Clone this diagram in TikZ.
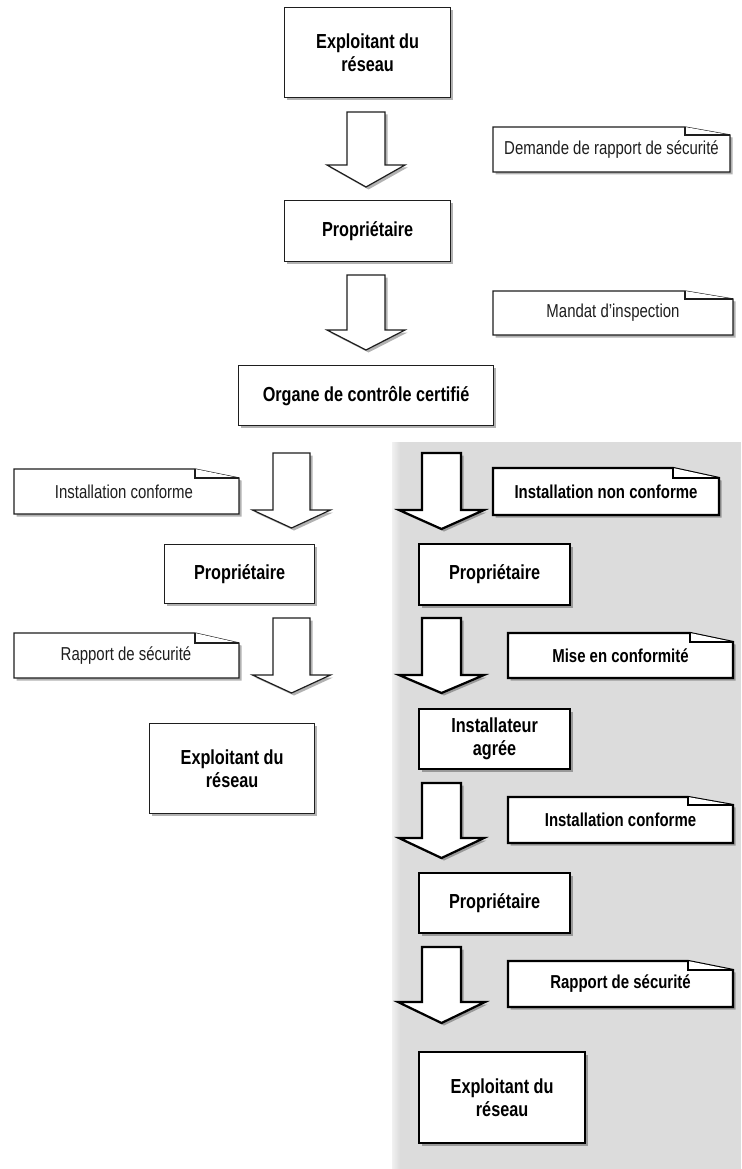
\documentclass[tikz,border=0pt]{standalone}
\usepackage{fontspec}
\setmainfont{Liberation Sans}[FakeStretch=0.8]
\usetikzlibrary{shadows}
\definecolor{panelgray}{RGB}{220,220,220}
\definecolor{inkgray}{RGB}{30,30,30}
\tikzset{
  shd/.style={drop shadow={shadow xshift=2.5pt,shadow yshift=-2.5pt,opacity=0.3,fill=black}},
  thinln/.style={line width=1.2pt,draw=inkgray,fill=white,line join=miter},
  thickln/.style={line width=2.2pt,draw=black,fill=white,line join=miter},
  boxtxt/.style={inner sep=0pt,align=center,font=\fontsize{20.3}{23}\selectfont\bfseries,text=black},
  thinbox/.style={thinln,shd,boxtxt},
  thickbox/.style={thickln,shd,boxtxt},
  doctxtthin/.style={inner sep=0pt,font=\fontsize{18.7}{21}\selectfont,text=inkgray},
  doctxtthick/.style={inner sep=0pt,font=\fontsize{18.7}{21}\selectfont\bfseries,text=black},
}
% \docshape{name}{x1}{y1}{x2}{y2}{foldw}{foldh}{linestyle}{unused}
\newcommand\docshape[9]{%
  \filldraw[#8,shd] (#2,#3) -- ({#4-#6},#3) -- (#4,{#3+#7}) -- (#4,#5) -- (#2,#5) -- cycle;
  \draw[#8] ({#4-#6},#3) -- ({#4-#6},{#3+#7}) -- (#4,{#3+#7});
}
\newcommand\blkarrow[7]{%
  \filldraw[#1,shd] ({#2-#6},#3) -- ({#2+#6},#3) -- ({#2+#6},#4) -- ({#2+#7},#4) -- (#2,#5) -- ({#2-#7},#4) -- ({#2-#6},#4) -- cycle;
}
\begin{document}
\begin{tikzpicture}[x=1pt,y=-1pt]
\useasboundingbox (0,0) rectangle (741,1169);
\fill[white] (0,0) rectangle (741,1169);
% gray panel
\fill[panelgray] (392,442) rectangle (741,1169);
\shade[left color=white!60!panelgray,right color=panelgray] (392,442) rectangle (400,1169);

% top column
\node[thinbox,minimum width=166pt,minimum height=90pt,anchor=north west] (e1) at (284,7) {Exploitant du\\réseau};
\blkarrow{thinln}{366}{112}{165}{187}{19}{39}
\docshape{d1}{493}{127}{730}{172}{45}{8}{thinln}{}
\node[doctxtthin] (t1) at (611.5,150) {Demande de rapport de sécurité};

\node[thinbox,minimum width=166pt,minimum height=61pt,anchor=north west] (p1) at (284,200) {Propriétaire};
\blkarrow{thinln}{366}{275}{330}{350}{19}{39}
\docshape{d2}{493}{291}{733}{335}{48}{8}{thinln}{}
\node[doctxtthin] (t2) at (613,313) {Mandat d'inspection};

\node[thinbox,minimum width=255pt,minimum height=60pt,anchor=north west] (o1) at (238,365) {Organe de contrôle certifié};

% left branch
\blkarrow{thinln}{291.5}{453}{510}{528}{18.5}{39}
\docshape{ld1}{14}{469}{239}{514}{44}{9}{thinln}{}
\node[doctxtthin] (lt1) at (124,492) {Installation conforme};
\node[thinbox,minimum width=150pt,minimum height=59pt,anchor=north west] (lp) at (164,544) {Propriétaire};
\blkarrow{thinln}{291.5}{618}{675}{693}{18.5}{39}
\docshape{ld2}{14}{633}{239}{678}{44}{10}{thinln}{}
\node[doctxtthin] (lt2) at (126,656) {Rapport de sécurité};
\node[thinbox,minimum width=165pt,minimum height=90pt,anchor=north west] (le) at (149,723) {Exploitant du\\réseau};

% right branch (panel)
\blkarrow{thickln}{441.5}{453}{510}{529}{19.5}{42.5}
\docshape{rd1}{493}{468}{719}{515}{46}{10}{thickln}{}
\node[doctxtthick] (rt1) at (606,491.5) {Installation non conforme};
\node[thickbox,minimum width=151pt,minimum height=61pt,anchor=north west] (rp1) at (418,543) {Propriétaire};

\blkarrow{thickln}{441.5}{618}{675}{693}{19.5}{42.5}
\docshape{rd2}{508}{633}{733}{678}{43}{9}{thickln}{}
\node[doctxtthick] (rt2) at (620.5,656) {Mise en conformité};
\node[thickbox,minimum width=151pt,minimum height=60pt,anchor=north west] (ri) at (418,708) {Installateur\\agrée};

\blkarrow{thickln}{441.5}{783}{838}{858}{19.5}{42.5}
\docshape{rd3}{508}{797}{733}{843}{45}{8}{thickln}{}
\node[doctxtthick] (rt3) at (620.5,820) {Installation conforme};
\node[thickbox,minimum width=151pt,minimum height=60pt,anchor=north west] (rp2) at (418,872) {Propriétaire};

\blkarrow{thickln}{441.5}{947}{1002}{1023}{19.5}{43.5}
\docshape{rd4}{508}{961}{733}{1007}{45}{9}{thickln}{}
\node[doctxtthick] (rt4) at (620.5,984) {Rapport de sécurité};
\node[thickbox,minimum width=166pt,minimum height=91pt,anchor=north west] (re) at (418,1051) {Exploitant du\\réseau};
\end{tikzpicture}
\end{document}
